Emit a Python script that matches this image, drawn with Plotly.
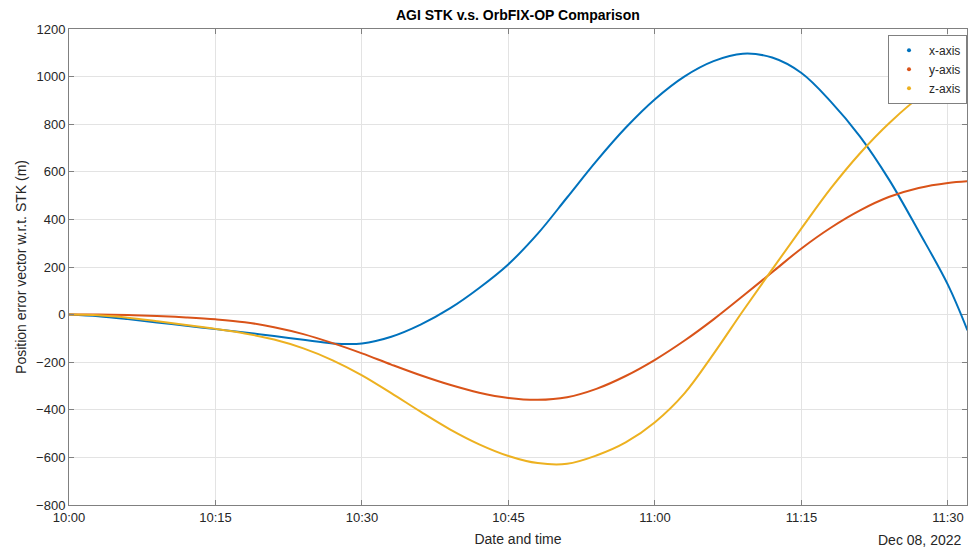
import pandas as pd
import plotly.graph_objects as go

# minutes after 10:00 on Dec 08, 2022
minutes = [0, 3, 6, 9, 12, 15, 18, 21, 24, 27, 30, 33, 36, 39, 42, 45, 48, 51, 54, 57,
           60, 63, 66, 69, 72, 75, 78, 81, 84, 87, 90, 92]

x_axis_err = [0, -7, -19, -33, -47, -61, -75, -90, -106, -121, -121, -93, -42, 26, 112, 212,
              340, 492, 645, 785, 905, 1000, 1065, 1096, 1080, 1015, 895, 748, 565, 350, 125, -66]
y_axis_err = [0, 0, -2, -6, -12, -20, -32, -53, -82, -120, -163, -210, -255, -295, -328, -350,
              -358, -347, -312, -258, -190, -110, -20, 78, 178, 278, 365, 438, 495, 532, 553, 560]
z_axis_err = [0, -3, -13, -28, -44, -60, -79, -105, -142, -192, -255, -330, -408, -482, -545, -594,
              -624, -627, -592, -537, -452, -332, -165, 15, 190, 362, 530, 678, 805, 910, 975, 998]

series_names = ["x-axis", "y-axis", "z-axis"]
series_colors = ["#0072BD", "#D95319", "#EDB120"]

start = pd.Timestamp("2022-12-08 10:00:00")
times = [start + pd.Timedelta(minutes=m) for m in minutes]

fig = go.Figure()
for name, vals, col in zip(series_names, [x_axis_err, y_axis_err, z_axis_err], series_colors):
    fig.add_trace(go.Scatter(x=times, y=vals, mode="lines",
                             line=dict(color=col, width=2, shape="spline", smoothing=1.0),
                             showlegend=False, hoverinfo="skip"))
for name, col in zip(series_names, series_colors):
    fig.add_trace(go.Scatter(x=[None], y=[None], mode="markers", name=name,
                             marker=dict(color=col, size=4)))

font_family = "Liberation Sans, Arial, sans-serif"
axis_col = "#262626"
fig.update_layout(
    width=968, height=548,
    margin=dict(l=69, r=1, t=29, b=43),
    paper_bgcolor="white", plot_bgcolor="white",
    font=dict(family=font_family, size=13, color=axis_col),
    title=dict(text="<b>AGI STK v.s. OrbFIX-OP Comparison</b>", x=0.535, xanchor="center",
               y=0.972, yanchor="middle", font=dict(size=14, color="#000000")),
    legend=dict(x=1.0, y=0.988, xanchor="right", yanchor="top", bgcolor="white",
                bordercolor="#808080", borderwidth=1, font=dict(size=12, color=axis_col),
                itemwidth=30, tracegroupgap=0),
    showlegend=True,
)
fig.update_xaxes(
    type="date",
    range=[start, start + pd.Timedelta(minutes=91.95)],
    tick0=start, dtick=15 * 60 * 1000, tickformat="%H:%M",
    showgrid=True, gridcolor="#e3e3e3", gridwidth=1,
    showline=True, linecolor="#808080", linewidth=1, mirror="allticks",
    ticks="inside", ticklen=5, tickcolor="#808080",
    tickfont=dict(size=13, color=axis_col),
    title=dict(text="Date and time", font=dict(size=14, color=axis_col), standoff=10),
    zeroline=False,
)
fig.update_yaxes(
    range=[-800, 1200], dtick=200,
    showgrid=True, gridcolor="#e3e3e3", gridwidth=1,
    showline=True, linecolor="#808080", linewidth=1, mirror="allticks",
    ticks="inside", ticklen=5, tickcolor="#808080",
    tickfont=dict(size=13, color=axis_col),
    title=dict(text="Position error vector w.r.t. STK (m)", font=dict(size=14, color=axis_col), standoff=6),
    zeroline=False,
)
fig.add_annotation(text="Dec 08, 2022", xref="paper", yref="paper", x=0.995, y=0.0, yshift=-35,
                   xanchor="right", yanchor="middle", showarrow=False,
                   font=dict(size=14, color=axis_col))

fig.write_html("out.html")
